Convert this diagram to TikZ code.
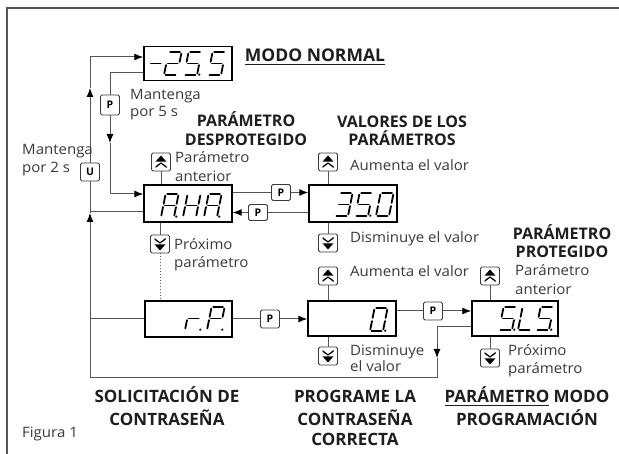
\documentclass[tikz,border=0pt]{standalone}
\usepackage{fontspec}
\setmainfont{Open Sans}
\newfontfamily\lblfont[FakeStretch=1.05]{Open Sans}
\usetikzlibrary{arrows.meta}
\definecolor{lin}{HTML}{555555}
\definecolor{txt}{HTML}{3A3A3A}
\definecolor{ttlc}{HTML}{1E1E1E}
\newcommand\myul[1]{\setbox0=\hbox{#1}\rlap{\rule[-3pt]{\wd0}{1.3pt}}\box0\relax}
\newcommand\dsega{\draw[segline] (1.6,23) -- (11.4,23);}
\newcommand\dsegb{\draw[segline] (13,21.4) -- (13,13.1);}
\newcommand\dsegc{\draw[segline] (13,9.9) -- (13,1.6);}
\newcommand\dsegd{\draw[segline] (1.6,0) -- (11.4,0);}
\newcommand\dsege{\draw[segline] (0,1.6) -- (0,9.9);}
\newcommand\dsegf{\draw[segline] (0,13.1) -- (0,21.4);}
\newcommand\dsegg{\draw[segline] (1.6,11.5) -- (11.4,11.5);}
\newcommand\dsegp{\fill (15.2,0.3) circle (1.2);}
\newcommand\sdig[3]{\begin{scope}[shift={(#1,#2)},x=1pt,y=1pt,xslant=0.2]\foreach \s in {#3}{\csname dseg\s\endcsname}\end{scope}}
\newcommand\upicon[1]{\begin{scope}[shift={(#1.center)}]\fill (-5.5,-0.3) -- (5.5,-0.3) -- (0,-6.5) -- cycle;\fill (-5.5,6) -- (0,1.8) -- (5.5,6) -- (5.5,4.2) -- (0,0.4) -- (-5.5,4.2) -- cycle;\end{scope}}
\newcommand\dnicon[1]{\begin{scope}[shift={(#1.center)}]\fill (-5.5,0.3) -- (5.5,0.3) -- (0,6.5) -- cycle;\fill (-5.5,-6) -- (0,-1.8) -- (5.5,-6) -- (5.5,-4.2) -- (0,-0.4) -- (-5.5,-4.2) -- cycle;\end{scope}}
\tikzset{
 conn/.style={draw=lin, line width=1pt},
 arr/.style={-{Latex[length=9pt,width=7pt,color=black]}},
 disp/.style={draw=black, line width=1.4pt, minimum width=88pt, minimum height=37pt, inner sep=0pt, fill=white},
 btn/.style={draw=txt, line width=0.9pt, rounded corners=1.5pt, minimum width=19pt, minimum height=18pt, inner sep=0pt, fill=white, font=\fontsize{10.5}{10.5}\selectfont\bfseries},
 lbl/.style={anchor=base west, inner sep=0pt, text=txt, font=\lblfont\fontsize{14.3}{16}\selectfont},
 ttl/.style={anchor=base, inner sep=0pt, text=ttlc, font=\fontsize{16}{18}\selectfont\bfseries},
 ttlb/.style={anchor=base, inner sep=0pt, text=ttlc, font=\fontsize{17}{19}\selectfont\bfseries},
 segline/.style={line width=1.8pt, line cap=round},
}
\begin{document}
\begin{tikzpicture}[x=1pt,y=-1pt]
\useasboundingbox (0,0) rectangle (619,454);
\fill[white] (0,0) rectangle (619,454);
% frame
\coordinate (fTL) at (7,8);
\coordinate (fTR) at (619,8);
\coordinate (fBL) at (7,454);
\draw[draw=lin, line width=1.5pt] (fBL) -- (fTL) -- (fTR);
% displays
\node[disp, minimum height=34pt] (dn) at (188,63.5) {};
\node[disp] (dA) at (188,203.5) {};
\node[disp] (d35) at (353,203.5) {};
\node[disp, minimum width=87pt, minimum height=36pt] (drP) at (188.5,319) {};
\node[disp, minimum height=35pt] (d0) at (352,318.5) {};
\node[disp, minimum width=86pt, minimum height=35pt] (dS) at (515,318.5) {};
% digits
\sdig{147}{75}{g}
\sdig{164}{75}{a,b,g,e,d}
\sdig{184}{75}{a,f,g,c,d,p}
\sdig{208}{75}{a,f,g,c,d}
\sdig{161}{217}{a,b,c,e,f,g,p}
\sdig{183}{217}{b,c,e,f,g}
\sdig{204}{217}{a,b,c,e,f,g,p}
\sdig{335}{216}{a,b,c,d,g}
\sdig{355}{216}{a,f,g,c,d,p}
\sdig{376}{216}{a,b,c,d,e,f}
\sdig{185}{330}{e,g,p}
\sdig{207}{330}{a,b,e,f,g,p}
\sdig{370}{331}{a,b,c,d,e,f,p}
\sdig{499}{330}{a,f,g,c,d,p}
\sdig{518}{330}{d,e,f}
\sdig{536}{330}{a,f,g,c,d,p}
% buttons
\node[btn, minimum height=20pt] (pN) at (110,105) {P};
\node[btn] (pU) at (90,172) {U};
\node[btn, minimum height=16pt] (pA) at (281,192.5) {P};
\node[btn, minimum height=16pt] (pB) at (258,212.5) {P};
\node[btn] (pC) at (270,319) {P};
\node[btn] (pD) at (433,311) {P};
\node[btn] (bA) at (161,162) {};
\node[btn] (bAd) at (160,244) {};
\node[btn] (b35u) at (328,162) {};
\node[btn] (b35d) at (328,243) {};
\node[btn] (b0u) at (328,276) {};
\node[btn] (b0d) at (328,356) {};
\node[btn] (bSu) at (490,276) {};
\node[btn] (bSd) at (490,358) {};
\upicon{bA}\dnicon{bAd}\upicon{b35u}\dnicon{b35d}\upicon{b0u}\dnicon{b0d}\upicon{bSu}\dnicon{bSd}
% coordinates
\coordinate (c1) at (90,57);
\coordinate (c2) at (90,378);
\coordinate (c3) at (437,378);
\coordinate (c4) at (437,327);
\coordinate (c5) at (110,73);
\coordinate (c6) at (110,194);
\coordinate (jA) at (90,212);
\coordinate (jR) at (90,319);
\coordinate (tUp1) at (90,213);
\coordinate (tUp2) at (90,88);
\coordinate (tDn1) at (110,143);
\coordinate (tDn2) at (437,358);
% connectors
\draw[conn,arr] (dS.west |- c4) -- (c4) -- (tDn2);
\draw[conn,arr] (tDn2) -- (c3) -- (c2) -- (tUp1);
\draw[conn] (tUp1) -- (pU);
\draw[conn,arr] (pU) -- (tUp2);
\draw[conn,arr] (tUp2) -- (c1) -- (dn.west |- c1);
\draw[conn] (dA.west |- jA) -- (jA);
\draw[conn] (drP.west) -- (jR);
\draw[conn] (dn.west |- c5) -- (c5) -- (pN);
\draw[conn,arr] (pN) -- (tDn1);
\draw[conn,arr] (tDn1) -- (c6) -- (dA.west |- c6);
\draw[conn] (dA.east |- pA) -- (pA);
\draw[conn,arr] (pA) -- (d35.west |- pA);
\draw[conn] (d35.west |- pB) -- (pB);
\draw[conn,arr] (pB) -- (dA.east |- pB);
\draw[conn] (drP.east) -- (pC);
\draw[conn,arr] (pC) -- (d0.west |- pC);
\draw[conn] (d0.east |- pD) -- (pD);
\draw[conn,arr] (pD) -- (dS.west |- pD);
\draw[conn] (bA) -- (dA.north -| bA);
\draw[conn] (bAd) -- (dA.south -| bAd);
\draw[conn, dotted] (bAd) -- (drP.north -| bAd);
\draw[conn] (b35u) -- (d35.north -| b35u);
\draw[conn] (b35d) -- (d35.south -| b35d);
\draw[conn] (b0u) -- (d0.north -| b0u);
\draw[conn] (b0d) -- (d0.south -| b0d);
\draw[conn] (bSu) -- (dS.north -| bSu);
\draw[conn] (bSd) -- (dS.south -| bSd);
% labels
\node[lbl] (l1) at (22,155) {Mantenga};
\node[lbl] (l2) at (22,173) {por 2 s};
\node[lbl] (l3) at (130,100) {Mantenga};
\node[lbl] (l4) at (130,117) {por 5 s};
\node[lbl] (l5) at (175,163) {Parámetro};
\node[lbl] (l6) at (175,182) {anterior};
\node[lbl] (l7) at (174,250) {Próximo};
\node[lbl] (l8) at (174,268) {parámetro};
\node[lbl] (l9) at (350,171) {Aumenta el valor};
\node[lbl] (l10) at (350,243) {Disminuye el valor};
\node[lbl] (l11) at (350,277) {Aumenta el valor};
\node[lbl] (l12) at (350,356) {Disminuye};
\node[lbl] (l13) at (350,372) {el valor};
\node[lbl] (l14) at (515,276) {Parámetro};
\node[lbl] (l15) at (515,295) {anterior};
\node[lbl] (l16) at (508,356) {Próximo};
\node[lbl] (l17) at (508,374) {parámetro};
\node[lbl] (l18) at (22,438) {Figura 1};
% titles
\node[ttl, font=\fontsize{17.5}{19}\selectfont\bfseries] (t1) at (315,62) {\myul{MODO NORMAL}};
\node[ttl] (t2) at (246,127) {PARÁMETRO};
\node[ttl] (t3) at (246,146) {DESPROTEGIDO};
\node[ttl] (t4) at (402,127.5) {VALORES DE LOS};
\node[ttl] (t5) at (402,146) {PARÁMETROS};
\node[ttl] (t6) at (562,240) {PARÁMETRO};
\node[ttl] (t7) at (562,258) {PROTEGIDO};
\node[ttlb] (t8) at (167,403) {SOLICITACIÓN DE};
\node[ttlb] (t9) at (167,425) {CONTRASEÑA};
\node[ttlb] (t10) at (355,403) {PROGRAME LA};
\node[ttlb] (t11) at (355,425) {CONTRASEÑA};
\node[ttlb] (t12) at (355,446) {CORRECTA};
\node[ttlb] (t13) at (527,403) {\myul{PARÁMETRO} MODO};
\node[ttlb] (t14) at (527,425) {PROGRAMACIÓN};
\end{tikzpicture}
\end{document}
